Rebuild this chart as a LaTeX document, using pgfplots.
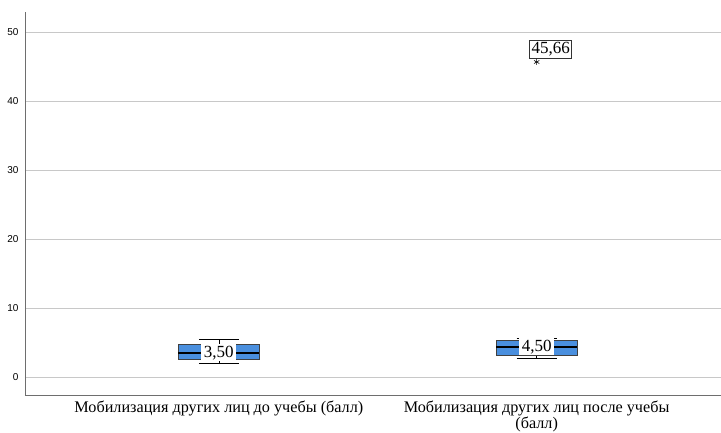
\documentclass[border=0pt]{standalone}
\usepackage{fontspec}
\setmainfont{Liberation Serif}
\setsansfont{Liberation Sans}
\usepackage{pgfplots}
\pgfplotsset{compat=1.18}
\definecolor{boxblue}{HTML}{4A8FDE}
\definecolor{gridgray}{HTML}{C8C8C8}
\definecolor{axisgray}{HTML}{6E6E6E}
\begin{document}
\begin{tikzpicture}
\useasboundingbox (-25pt,-38pt) rectangle (696pt,395pt);
\begin{axis}[
  at={(0pt,0pt)}, anchor=south west,
  scale only axis, width=696pt, height=383pt,
  xmin=0.39, xmax=2.58,
  ymin=-2.56, ymax=52.9,
  axis x line*=bottom, axis y line*=left,
  axis line style={axisgray, line width=0.8pt, -},
  xtick={1,2},
  xticklabels={{Мобилизация других лиц до учебы (балл)},{Мобилизация других лиц после учебы\\(балл)}},
  xticklabel style={font=\fontsize{16.2}{16.5}\selectfont, align=center, yshift=-2pt},
  ytick={0,10,20,30,40,50},
  yticklabel style={font=\sffamily\fontsize{10}{12}\selectfont, xshift=-3pt},
  /pgf/number format/assume math mode=true,
  major tick length=0pt,
  ymajorgrids, grid style={gridgray, line width=0.8pt},
  clip=false,
]
% --- box 1: whiskers 2.0 / 5.5, quartiles 2.6 / 4.8, median 3.55
\addplot[black, line width=0.6pt] coordinates {(1,2.0) (1,2.6)};
\addplot[black, line width=0.6pt] coordinates {(1,4.8) (1,5.5)};
\addplot[black, line width=0.8pt] coordinates {(0.937,5.5) (1.063,5.5)};
\addplot[black, line width=0.8pt] coordinates {(0.937,2.0) (1.063,2.0)};
\addplot[draw=black!75, fill=boxblue, line width=0.6pt] coordinates {(0.8725,2.6) (1.1275,2.6) (1.1275,4.8) (0.8725,4.8)} -- cycle;
\addplot[black, line width=1.6pt] coordinates {(0.8725,3.55) (1.1275,3.55)};
% --- box 2: whiskers 2.75 / 5.6, quartiles 3.15 / 5.3, median 4.4
\addplot[black, line width=0.6pt] coordinates {(2,2.75) (2,3.15)};
\addplot[black, line width=0.6pt] coordinates {(2,5.3) (2,5.6)};
\addplot[black, line width=0.8pt] coordinates {(1.937,5.6) (2.063,5.6)};
\addplot[black, line width=0.8pt] coordinates {(1.937,2.75) (2.063,2.75)};
\addplot[draw=black!75, fill=boxblue, line width=0.6pt] coordinates {(1.8725,3.15) (2.1275,3.15) (2.1275,5.3) (1.8725,5.3)} -- cycle;
\addplot[black, line width=1.6pt] coordinates {(1.8725,4.4) (2.1275,4.4)};
% --- outlier
\addplot[only marks, mark=asterisk, mark size=3pt, mark options={black, line width=0.6pt}] coordinates {(2,45.66)};
\node[fill=white, inner xsep=2.5pt, inner ysep=1.5pt, font=\fontsize{17}{19}\selectfont] at (axis cs:1,3.55) {3,50};
\node[fill=white, inner xsep=2.5pt, inner ysep=1.5pt, font=\fontsize{17}{19}\selectfont] at (axis cs:2,4.4) {4,50};
\node[fill=white, draw=black!80, line width=0.6pt, inner xsep=2pt, inner ysep=2.5pt, font=\fontsize{17}{19}\selectfont] at (axis cs:2.044,47.5) {45,66};
\end{axis}
\end{tikzpicture}
\end{document}
